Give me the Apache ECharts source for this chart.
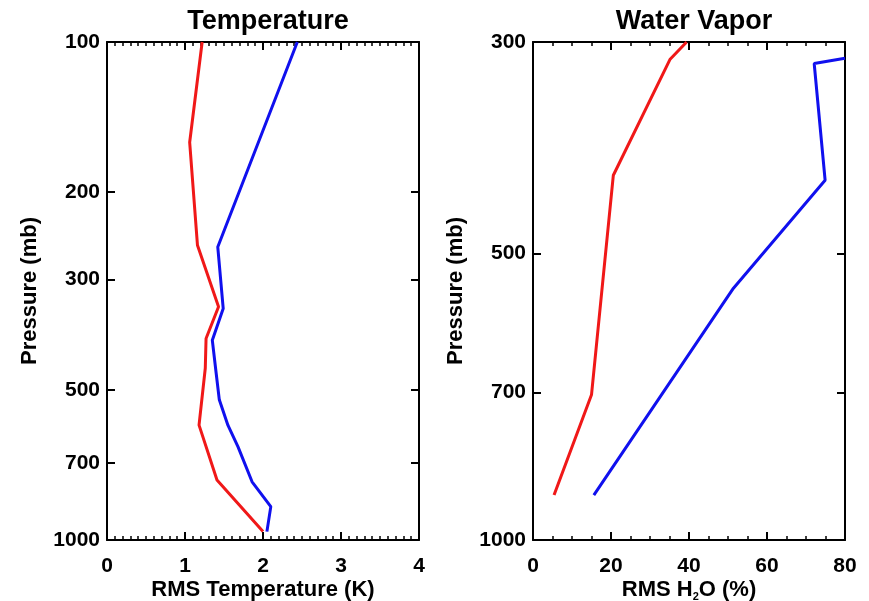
<!DOCTYPE html>
<html>
<head>
<meta charset="utf-8">
<script src="https://cdn.jsdelivr.net/npm/echarts@6/dist/echarts.min.js"></script>
<style>
  html, body { margin: 0; padding: 0; background: #fff; }
  #chart { width: 869px; height: 601px; }
</style>
</head>
<body>
<div id="chart"></div>
<script>
// pressure tick labels (mb)
const tempTicks = [100, 200, 300, 500, 700, 1000]
const vaporTicks = [300, 500, 700, 1000]

// Temperature panel, RMS (K) by pressure (mb)
const tempRedP = [100, 159, 256, 340, 394, 452, 588, 758, 962]
const tempRedK = [1.22, 1.06, 1.16, 1.43, 1.27, 1.26, 1.18, 1.41, 2.00]
const tempBlueP = [100, 258, 343, 397, 463, 523, 588, 650, 764, 857, 962]
const tempBlueK = [2.44, 1.42, 1.49, 1.35, 1.40, 1.44, 1.55, 1.68, 1.86, 2.10, 2.05]

// Water vapor panel, RMS H2O (%) by pressure (mb)
const vapRedP = [300, 313, 414, 704, 897]
const vapRedV = [39.4, 35.1, 20.6, 15.0, 5.4]
const vapBlueP = [312, 316, 419, 544, 897]
const vapBlueV = [80, 72.1, 74.9, 51.4, 15.6]

const RED = '#f01818'
const BLUE = '#1010ee'
const font = { fontFamily: 'Liberation Sans', fontWeight: 'bold', color: '#000', fontSize: 21 }
const nameFont = { ...font, fontSize: 22, lineHeight: 24 }

const pairs = (xs, ps) => xs.map((x, i) => [x, ps[i]])

function xAxis(grid, pos, max, interval, minorSplit, name) {
  return {
    type: 'value', gridIndex: grid, position: pos,
    min: 0, max: max, interval: interval,
    axisLine: { show: true, onZero: false, lineStyle: { color: '#000', width: 2 } },
    axisTick: { show: true, inside: true, length: 8, lineStyle: { color: '#000', width: 2 } },
    minorTick: { show: true, splitNumber: minorSplit, length: 4, lineStyle: { color: '#000', width: 1.5 } },
    splitLine: { show: false },
    minorSplitLine: { show: false },
    axisLabel: { show: pos === 'bottom', margin: 16, ...font },
    name: name || '',
    nameLocation: 'middle',
    nameGap: 38,
    nameMoveOverlap: false,
    nameTextStyle: {
      ...nameFont,
      rich: { sub: { ...nameFont, fontSize: 11, lineHeight: 11, verticalAlign: 'bottom' } }
    }
  }
}

function yAxis(grid, pos, min, ticks) {
  return {
    type: 'log', logBase: 10, gridIndex: grid, position: pos,
    min: min, max: 1000, inverse: true,
    axisLine: { show: true, onZero: false, lineStyle: { color: '#000', width: 2 } },
    axisTick: { show: true, inside: true, length: 8, customValues: ticks, lineStyle: { color: '#000', width: 2 } },
    minorTick: { show: false },
    splitLine: { show: false },
    axisLabel: {
      show: pos === 'left', margin: 7, customValues: ticks,
      formatter: v => String(Math.round(v)), ...font
    },
    name: pos === 'left' ? 'Pressure (mb)' : '',
    nameLocation: 'middle',
    nameRotate: 90,
    nameGap: 65,
    nameMoveOverlap: false,
    nameTextStyle: nameFont
  }
}

function line(xi, yi, data, color) {
  return {
    type: 'line', xAxisIndex: xi, yAxisIndex: yi, data: data,
    symbol: 'none', clip: false, animation: false,
    lineStyle: { color: color, width: 3 }
  }
}

const chart = echarts.init(document.getElementById('chart'), null, { renderer: 'canvas' })
chart.setOption({
  animation: false,
  backgroundColor: '#fff',
  title: [
    { text: 'Temperature', left: 263, top: 3, textAlign: 'center',
      textStyle: { ...font, fontSize: 27 } },
    { text: 'Water Vapor', left: 689, top: 3, textAlign: 'center',
      textStyle: { ...font, fontSize: 27 } }
  ],
  grid: [
    { left: 107, top: 42, width: 312, height: 498, containLabel: false, outerBoundsMode: 'none' },
    { left: 533, top: 42, width: 312, height: 498, containLabel: false, outerBoundsMode: 'none' }
  ],
  xAxis: [
    xAxis(0, 'bottom', 4, 1, 10, 'RMS Temperature (K)'),
    xAxis(0, 'top', 4, 1, 10),
    xAxis(1, 'bottom', 80, 20, 4, 'RMS H{sub|2}O (%)'),
    xAxis(1, 'top', 80, 20, 4)
  ],
  yAxis: [
    yAxis(0, 'left', 100, tempTicks),
    yAxis(0, 'right', 100, tempTicks),
    yAxis(1, 'left', 300, vaporTicks),
    yAxis(1, 'right', 300, vaporTicks)
  ],
  series: [
    line(0, 0, pairs(tempRedK, tempRedP), RED),
    line(0, 0, pairs(tempBlueK, tempBlueP), BLUE),
    line(2, 2, pairs(vapRedV, vapRedP), RED),
    line(2, 2, pairs(vapBlueV, vapBlueP), BLUE)
  ]
})
</script>
</body>
</html>
